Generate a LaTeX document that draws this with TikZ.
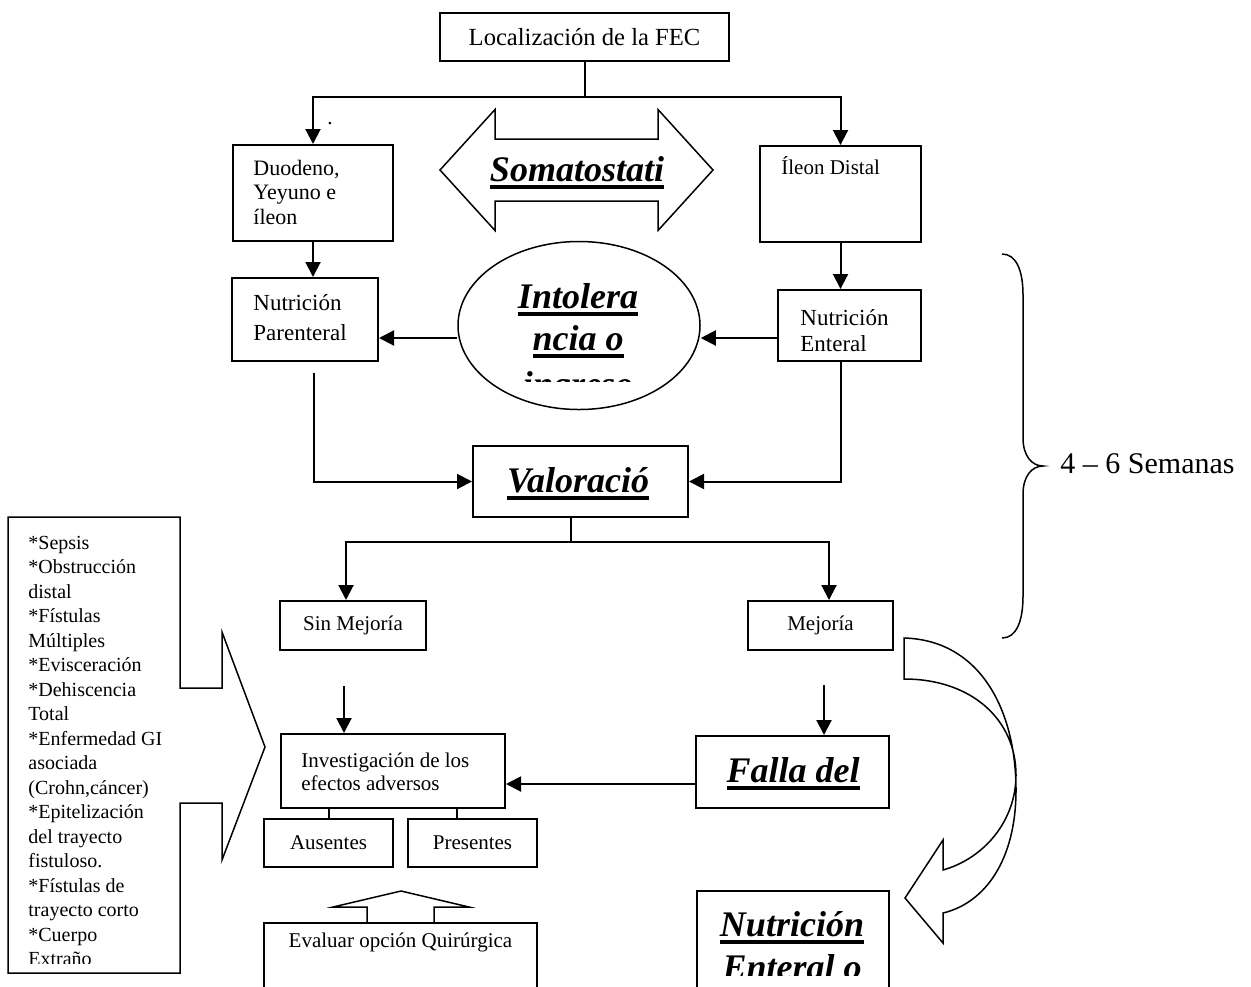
\documentclass[tikz,border=0pt]{standalone}
\usepackage{fontspec}
\setmainfont{Liberation Serif}
\usetikzlibrary{arrows.meta,shapes.geometric}

% Texto subrayado grueso (estilo procesador de textos)
\newcommand{\subr}[1]{\setbox0=\hbox{#1}\rlap{\rule[-4pt]{\wd0}{2pt}}\box0}
\newcommand{\fgrande}{\fontsize{18}{20}\selectfont\bfseries\itshape}

\begin{document}
\begin{tikzpicture}[x=0.5pt, y=-0.5pt,
    caja/.style={draw, line width=1pt, inner sep=0pt, font=\fontsize{10.5}{12}\selectfont},
    flecha/.style={-{Triangle[length=7.5pt,width=7.5pt]}, line width=1pt},
    linea/.style={line width=1pt},
    forma/.style={draw, line width=0.75pt},
    texto/.style={inner sep=0pt, anchor=base west, font=\fontsize{10.5}{12}\selectfont}]
    % Unidad: un pixel de la figura original
    \def\px{0.5pt}

    % Marco de la figura
    \fill[white] (0,0) rectangle (1251,986);
    \useasboundingbox (0,0) rectangle (1251,986);
    \clip (0,0) rectangle (1251,986);

    % Cajas principales
    \node[caja, minimum width=289*\px, minimum height=48*\px, font=\fontsize{12.3}{14}\selectfont] (loc) at (584.5,37) {Localización de la FEC};
    \node[caja, minimum width=160*\px, minimum height=96*\px] (duo) at (313,193) {};
    \node[caja, minimum width=161*\px, minimum height=96*\px] (ile) at (840.5,194) {};
    \node[caja, minimum width=146*\px, minimum height=83*\px] (par) at (305,319.5) {};
    \node[caja, minimum width=143*\px, minimum height=71*\px] (ent) at (849.5,325.5) {};
    \node[forma, ellipse, inner sep=0pt, minimum width=242*\px, minimum height=168*\px] (int) at (579,325.5) {};
    \node[caja, minimum width=215*\px, minimum height=71*\px] (val) at (580.5,481.5) {};
    \node[caja, minimum width=146*\px, minimum height=49*\px] (sin) at (353,625.5) {Sin Mejoría};
    \node[caja, minimum width=145*\px, minimum height=49*\px] (mej) at (820.5,625.5) {Mejoría};
    \node[caja, minimum width=224*\px, minimum height=74*\px] (inv) at (393,771) {};
    \node[caja, minimum width=129*\px, minimum height=48*\px] (aus) at (328.5,843) {Ausentes};
    \node[caja, minimum width=129*\px, minimum height=48*\px] (pre) at (472.5,843) {Presentes};
    \node[caja, minimum width=273*\px, minimum height=87*\px] (eva) at (400.5,966.5) {};
    \node[caja, minimum width=193*\px, minimum height=72*\px] (fal) at (792.5,772) {};
    \node[caja, minimum width=192*\px, minimum height=118*\px] (nut) at (793,950) {};

    % Textos de las cajas
    \node[texto, font=\fontsize{11}{12}\selectfont] (duo1) at (253,175) {Duodeno,};
    \node[texto, font=\fontsize{11}{12}\selectfont] (duo2) at (253,199) {Yeyuno e};
    \node[texto, font=\fontsize{11}{12}\selectfont] (duo3) at (253,224) {íleon};
    \node[texto] (punto) at (327,124) {.};
    \node[texto] (ile1) at (781,174) {Íleon Distal};
    \node[texto, font=\fontsize{11.5}{13}\selectfont] (par1) at (253,310) {Nutrición};
    \node[texto, font=\fontsize{11.5}{13}\selectfont] (par2) at (253,340) {Parenteral};
    \node[texto, font=\fontsize{11.5}{13}\selectfont] (ent1) at (800,325) {Nutrición};
    \node[texto, font=\fontsize{11.5}{13}\selectfont] (ent2) at (800,351) {Enteral};
    \node[texto] (inv1) at (301,767) {Investigación de los};
    \node[texto] (inv2) at (301,790) {efectos adversos};
    \node[texto, anchor=base] (eva1) at (400.5,947) {Evaluar opción Quirúrgica};

    % Textos grandes subrayados
    \node[inner sep=0pt, anchor=base, font=\fgrande] (int1) at (578,308) {\subr{Intolera}};
    \node[inner sep=0pt, anchor=base, font=\fgrande] (int2) at (578,350) {\subr{ncia o}};
    \begin{scope}
        \clip (440,330) rectangle (720,381);
        \node[inner sep=0pt, anchor=base, font=\fgrande] (int3) at (578,396) {\subr{ingreso}};
    \end{scope}
    \node[inner sep=0pt, anchor=base, font=\fgrande] (valt) at (578,492) {\subr{Valoració}};
    \node[inner sep=0pt, anchor=base, font=\fgrande] (falt) at (793,782) {\subr{Falla del}};
    \node[inner sep=0pt, anchor=base, font=\fgrande] (nut1) at (792,936) {\subr{Nutrición}};
    \begin{scope}
        \clip (700,950) rectangle (885,975);
        \node[inner sep=0pt, anchor=base, font=\fgrande] (nut2) at (792,979) {\subr{Enteral o}};
    \end{scope}

    % Flecha doble de somatostatina
    \draw[forma] (440,170) -- (495,109.5) -- (495,139) -- (658,139) -- (658,109.5) -- (713,170)
        -- (658,230.5) -- (658,201) -- (495,201) -- (495,230.5) -- cycle;
    \node[inner sep=0pt, anchor=base, font=\fgrande] (som) at (577,181) {\subr{Somatostati}};

    % Conectores
    \coordinate (b1) at (585,97);
    \coordinate (fy) at (0,338);
    \coordinate (fy2) at (0,784);
    \coordinate (p1) at (314,373);
    \coordinate (v1) at (571,542);
    \coordinate (sx) at (346,0);
    \coordinate (mx) at (829,0);
    \coordinate (s1) at (344,686);
    \coordinate (m1) at (824,685);
    \coordinate (px2) at (457,0);
    \draw[linea] (loc.south) -- (loc.south |- b1);
    \draw[flecha] (loc.south |- b1) -| (duo.north);
    \draw[flecha] (loc.south |- b1) -| (ile.north);
    \draw[flecha] (duo.south) -- (duo.south |- par.north);
    \draw[flecha] (ile.south) -- (ile.south |- ent.north);
    \draw[flecha] (ent.west |- fy) -- (int.east |- fy);
    \draw[flecha] (int.west |- fy) -- (par.east |- fy);
    \draw[flecha] (p1) |- (val.west);
    \draw[flecha] (ent.south -| ile.south) |- (val.east);
    \draw[linea] (val.south -| v1) -- (v1);
    \draw[flecha] (v1) -| (sin.north -| sx);
    \draw[flecha] (v1) -| (mej.north -| mx);
    \draw[flecha] (s1) -- (s1 |- inv.north);
    \draw[flecha] (m1) -- (m1 |- fal.north);
    \draw[flecha] (fal.west |- fy2) -- (inv.east |- fy2);
    \draw[linea] (inv.south -| aus.north) -- (aus.north);
    \draw[linea] (inv.south -| px2) -- (pre.north -| px2);

    % Flecha de bloque hacia arriba
    \draw[forma] (367,923) -- (367,907) -- (333,907) -- (401,891) -- (469,907) -- (434,907) -- (434,923);

    % Flecha curva de Mejoría a Nutrición
    \draw[forma] (904,638) .. controls (980,640) and (1016,710) .. (1016,790)
        .. controls (1016,860) and (985,903) .. (943,913) -- (943,943) -- (905,898) -- (943,840) -- (943,870)
        .. controls (985,858) and (1016,820) .. (1016,775)
        .. controls (1016,720) and (972,679) .. (904,679) -- cycle;

    % Llave de 4 a 6 semanas
    \draw[forma] (1002,254) .. controls (1016,254) and (1023,270) .. (1023,295) -- (1023,438)
        .. controls (1023,456) and (1032,466) .. (1043,466)
        .. controls (1032,466) and (1023,476) .. (1023,494) -- (1023,596)
        .. controls (1023,622) and (1016,638) .. (1002,638);
    \node[texto, font=\fontsize{15}{17}\selectfont] (sem) at (1060,473) {4 – 6 Semanas};

    % Recuadro de causas con flecha
    \draw[forma] (8,517) -- (180,517) -- (180,688) -- (222,688) -- (222,632) -- (265,747) -- (222,860)
        -- (222,803) -- (180,803) -- (180,973) -- (8,973) -- cycle;
    \begin{scope}
        \clip (8,517) rectangle (180,963);
        \foreach \lin [count=\i from 0] in {*Sepsis, *Obstrucción, distal, *Fístulas, Múltiples,
            *Evisceración, *Dehiscencia, Total, *Enfermedad GI, asociada, {(Crohn,cáncer)},
            *Epitelización, del trayecto, fistuloso., *Fístulas de, trayecto corto, *Cuerpo, Extraño}
            \node[texto, font=\fontsize{10}{12}\selectfont] (lis\i) at (28,549+24.5*\i) {\lin};
    \end{scope}
\end{tikzpicture}
\end{document}
